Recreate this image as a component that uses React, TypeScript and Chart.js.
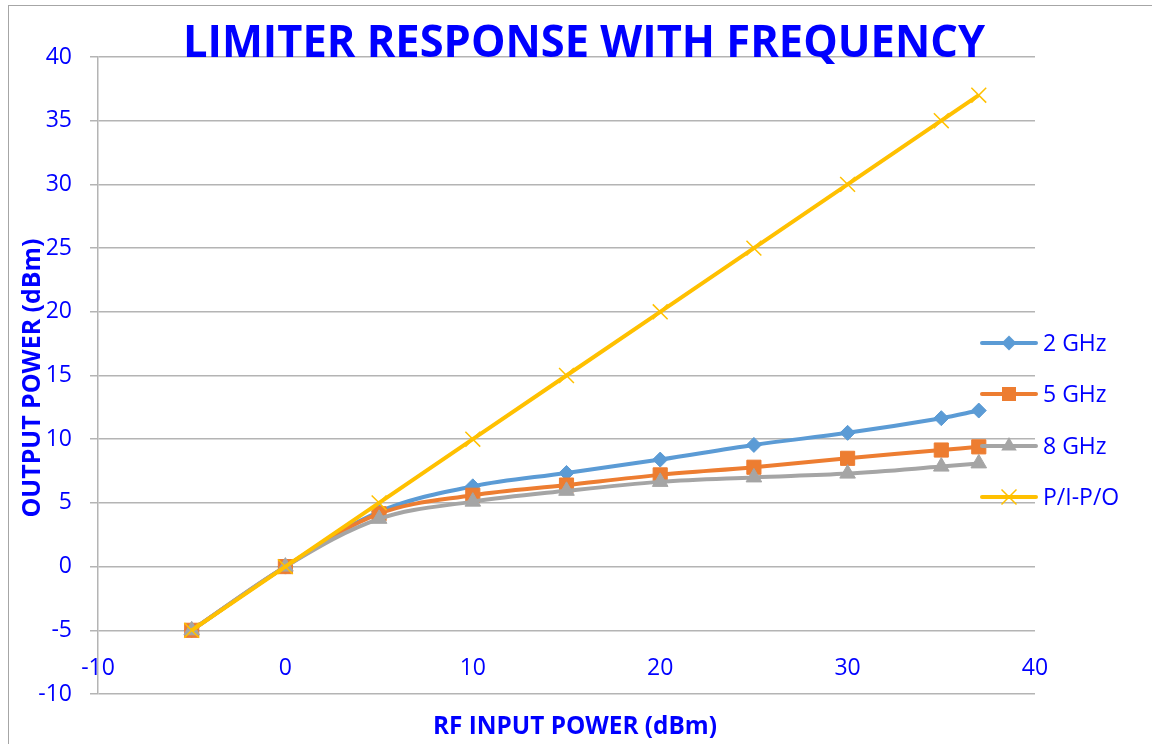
import React, { useEffect, useRef } from 'react';
import { Chart, registerables } from 'chart.js';

Chart.register(...registerables);

const xValues = [-5, 0, 5, 10, 15, 20, 25, 30, 35, 37];
const series2GHz = [-5, 0, 4.3, 6.3, 7.35, 8.4, 9.55, 10.5, 11.65, 12.25];
const series5GHz = [-5, 0, 4.15, 5.6, 6.4, 7.2, 7.8, 8.5, 9.15, 9.4];
const series8GHz = [-5, 0, 3.75, 5.1, 5.95, 6.65, 7.0, 7.3, 7.85, 8.1];
const seriesPIPO = [-5, 0, 5, 10, 15, 20, 25, 30, 35, 37];
const seriesNames = ['2 GHz', '5 GHz', '8 GHz', 'P/I-P/O'];
const seriesColors = ['#5B9BD5', '#ED7D31', '#A5A5A5', '#FFC000'];
const seriesMarkers = ['rectRot', 'rect', 'triangle', 'crossRot'];
const chartTitle = 'LIMITER RESPONSE WITH FREQUENCY';
const xAxisTitle = 'RF INPUT POWER (dBm)';
const yAxisTitle = 'OUTPUT POWER (dBm)';
const axisMin = -10;
const axisMax = 40;

const BLUE = '#0000FF';
const FONT = '"Open Sans", "DejaVu Sans", sans-serif';
const GRID = '#b4b4b4';

function drawMarker(ctx: CanvasRenderingContext2D, style: string, x: number, y: number, color: string) {
  ctx.save();
  ctx.fillStyle = color;
  ctx.strokeStyle = color;
  ctx.lineWidth = 1;
  ctx.beginPath();
  if (style === 'rectRot') {
    const r = 7.5;
    ctx.moveTo(x - r, y);
    ctx.lineTo(x, y - r);
    ctx.lineTo(x + r, y);
    ctx.lineTo(x, y + r);
    ctx.closePath();
    ctx.fill();
  } else if (style === 'rect') {
    const h = 7;
    ctx.rect(x - h, y - h, 2 * h, 2 * h);
    ctx.fill();
  } else if (style === 'triangle') {
    const r = 9;
    for (let i = 0; i < 3; i++) {
      const a = (i * 2 * Math.PI) / 3;
      const px = x + Math.sin(a) * r;
      const py = y - Math.cos(a) * r;
      if (i === 0) ctx.moveTo(px, py);
      else ctx.lineTo(px, py);
    }
    ctx.closePath();
    ctx.fill();
  } else {
    const d = 7.5;
    ctx.lineWidth = 1.5;
    ctx.moveTo(x - d, y - d);
    ctx.lineTo(x + d, y + d);
    ctx.moveTo(x + d, y - d);
    ctx.lineTo(x - d, y + d);
    ctx.stroke();
  }
  ctx.restore();
}

// Draw text centred at (cx, y) squeezed horizontally to a target width
function drawFitted(ctx: CanvasRenderingContext2D, text: string, font: string, cx: number, y: number, target: number) {
  ctx.save();
  ctx.font = font;
  const w = ctx.measureText(text).width;
  const sx = Math.min(1, target / w);
  ctx.translate(cx, y);
  ctx.scale(sx, 1);
  ctx.textAlign = 'center';
  ctx.fillText(text, 0, 0);
  ctx.restore();
}

const decorPlugin = {
  id: 'decor',
  beforeDraw(chart: any) {
    const ctx: CanvasRenderingContext2D = chart.ctx;
    ctx.save();
    ctx.fillStyle = '#ffffff';
    ctx.fillRect(0, 0, chart.width, chart.height);
    ctx.strokeStyle = '#a6a6a6';
    ctx.lineWidth = 1;
    ctx.strokeRect(8.5, 5.5, chart.width + 20, chart.height + 20);
    ctx.restore();
  },
  afterDraw(chart: any) {
    const ctx: CanvasRenderingContext2D = chart.ctx;
    const area = chart.chartArea;
    const xScale = chart.scales.x;
    ctx.save();
    ctx.fillStyle = BLUE;

    // X tick labels (drawn above the bottom axis line, like the original)
    ctx.font = `23px ${FONT}`;
    ctx.textAlign = 'center';
    ctx.textBaseline = 'middle';
    xScale.ticks.forEach((t: any) => {
      const px = xScale.getPixelForValue(t.value);
      ctx.fillText(String(t.value), px, area.bottom - 26);
    });

    // Title
    ctx.textBaseline = 'alphabetic';
    drawFitted(ctx, chartTitle, `bold 45px ${FONT}`, 584, 57, 802);

    // X axis title
    ctx.textBaseline = 'middle';
    drawFitted(ctx, xAxisTitle, `bold 25px ${FONT}`, 575, 727, 284);

    // Y axis title
    ctx.save();
    ctx.translate(33, 378);
    ctx.rotate(-Math.PI / 2);
    drawFitted(ctx, yAxisTitle, `bold 25px ${FONT}`, 0, 0, 279);
    ctx.restore();

    // Legend
    const legendY = [343, 394, 446, 497];
    chart.data.datasets.forEach((ds: any, i: number) => {
      const y = legendY[i];
      ctx.save();
      ctx.strokeStyle = ds.borderColor;
      ctx.lineWidth = 4;
      ctx.lineCap = 'round';
      ctx.beginPath();
      ctx.moveTo(982, y);
      ctx.lineTo(1036, y);
      ctx.stroke();
      ctx.restore();
      drawMarker(ctx, seriesMarkers[i], 1009, y, ds.borderColor);
      ctx.fillStyle = BLUE;
      ctx.font = `23px ${FONT}`;
      ctx.textAlign = 'left';
      ctx.textBaseline = 'middle';
      ctx.fillText(ds.label, 1043, y + 1);
    });
    ctx.restore();
  },
};

const allSeries = [series2GHz, series5GHz, series8GHz, seriesPIPO];
const markerRadius = [7.5, 10, 9, 10.5];

export default function App() {
  const canvasRef = useRef<HTMLCanvasElement | null>(null);

  useEffect(() => {
    const canvas = canvasRef.current;
    if (!canvas) return;
    const datasets = allSeries.map((values, i) => ({
      label: seriesNames[i],
      data: xValues.map((x, j) => ({ x, y: values[j] })),
      borderColor: seriesColors[i],
      backgroundColor: seriesColors[i],
      borderWidth: 4,
      pointStyle: seriesMarkers[i],
      pointRadius: markerRadius[i],
      pointBackgroundColor: seriesColors[i],
      pointBorderColor: seriesColors[i],
      pointBorderWidth: i === 3 ? 1.5 : 1,
      tension: i === 3 ? 0 : 0.35,
      order: 4 - i,
      fill: false,
    }));

    const chart = new Chart(canvas, {
      type: 'line',
      data: { datasets },
      plugins: [decorPlugin],
      options: {
        animation: false,
        responsive: false,
        maintainAspectRatio: false,
        layout: { padding: { left: 0, top: 57, right: 117, bottom: 0 } },
        plugins: {
          legend: { display: false },
          tooltip: { enabled: false },
          title: { display: false },
        },
        scales: {
          x: {
            type: 'linear',
            min: axisMin,
            max: axisMax,
            ticks: {
              stepSize: 10,
              display: false,
            },
            grid: { display: false, drawTicks: false },
            border: { display: false },
            afterFit: (scale: any) => {
              scale.height = 50;
            },
          },
          y: {
            type: 'linear',
            min: axisMin,
            max: axisMax,
            ticks: {
              stepSize: 5,
              color: BLUE,
              font: { family: FONT, size: 23 },
              padding: 18,
            },
            grid: { color: GRID, lineWidth: 1.5, tickLength: 8, drawTicks: true },
            border: { display: true, color: GRID, width: 1.5 },
            afterFit: (scale: any) => {
              scale.width = 98;
            },
          },
        },
      } as any,
    });
    return () => chart.destroy();
  }, []);

  return (
    <div style={{ position: 'absolute', left: 0, top: 0, width: 1152, height: 744 }}>
      <canvas ref={canvasRef} width={1152} height={744} style={{ display: 'block' }} />
    </div>
  );
}
